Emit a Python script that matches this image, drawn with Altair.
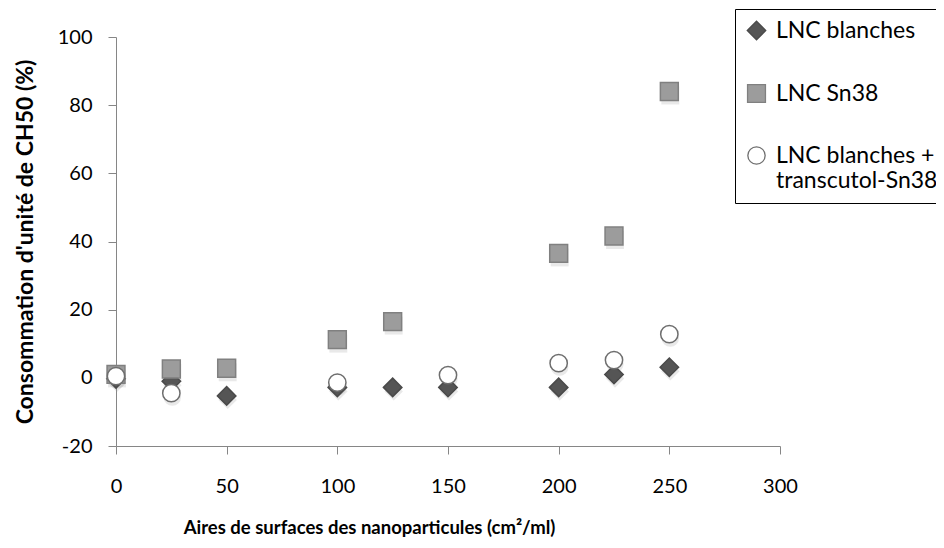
import altair as alt
import pandas as pd

series_names = ["LNC blanches", "LNC Sn38", "LNC blanches + transcutol-Sn38"]

x_blanches = [0, 25, 50, 100, 125, 150, 200, 225, 250]
y_blanches = [-0.3, -1.0, -5.3, -2.8, -2.8, -2.8, -2.8, 1.0, 3.1]

x_sn38 = [0, 25, 50, 100, 125, 200, 225, 250]
y_sn38 = [1.0, 2.6, 2.8, 11.2, 16.5, 36.5, 41.6, 84.0]

x_trans = [0, 25, 100, 150, 200, 225, 250]
y_trans = [0.5, -4.5, -1.4, 0.8, 4.3, 5.2, 12.8]

x_ticks = [0, 50, 100, 150, 200, 250, 300]
y_ticks = [-20, 0, 20, 40, 60, 80, 100]

rows = []
for name, xs, ys in zip(series_names, [x_blanches, x_sn38, x_trans], [y_blanches, y_sn38, y_trans]):
    for a, b in zip(xs, ys):
        rows.append({"serie": name, "x": a, "y": b})
df = pd.DataFrame(rows)

FONT = "Lato"
axis_color = "#868686"

x_enc = alt.X("x:Q", scale=alt.Scale(domain=[0, 300], nice=False),
              axis=alt.Axis(values=x_ticks, title="Aires de surfaces des nanoparticules (cm²/ml)",
                            grid=False, domainColor=axis_color, tickColor=axis_color,
                            tickSize=8, labelPadding=22, labelFontSize=20, labelFont=FONT,
                            labelColor="black", titleFont=FONT, titleFontSize=18.5,
                            titleFontWeight="bold", titleColor="black", titlePadding=22,
                            titleX=253, titleAnchor="middle",
                            labelFlush=False, labelExpr="toString(datum.value)"))
y_enc = alt.Y("y:Q", scale=alt.Scale(domain=[-20, 100], nice=False),
              axis=alt.Axis(values=y_ticks, title="Consommation d'unité de CH50 (%)",
                            grid=False, domainColor=axis_color, tickColor=axis_color,
                            tickSize=8, labelPadding=16, labelFontSize=20, labelFont=FONT,
                            labelColor="black", titleFont=FONT, titleFontSize=23,
                            titleFontWeight="bold", titleColor="black", titlePadding=20,
                            labelFlush=False, labelExpr="toString(datum.value)"))

legend = alt.Legend(title=None, orient="none", legendX=619, legendY=-28,
                    strokeColor="black", padding=10, rowPadding=38,
                    labelFont=FONT, labelFontSize=23, labelColor="black", labelLimit=400,
                    symbolStrokeWidth=1.3, labelOffset=8, symbolOpacity=1,
                    labelExpr="datum.label == 'LNC blanches + transcutol-Sn38' ? ['LNC blanches +', 'transcutol-Sn38'] : datum.label")

shape_scale = alt.Scale(domain=series_names, range=["diamond", "square", "circle"])
fill_scale = alt.Scale(domain=series_names, range=["#555555", "#9c9c9c", "#ffffff"])
stroke_scale = alt.Scale(domain=series_names, range=["#4a4a4a", "#808080", "#6e6e6e"])
size_scale = alt.Scale(domain=series_names, range=[340, 300, 200])

shadow = alt.Chart(df).mark_point(filled=True, opacity=0.22, yOffset=4, xOffset=1, color="#999999").encode(
    x=x_enc, y=y_enc,
    shape=alt.Shape("serie:N", scale=shape_scale, legend=None),
    size=alt.Size("serie:N", scale=size_scale, legend=None),
)

points = alt.Chart(df).mark_point(filled=True, strokeWidth=1.5, opacity=1).encode(
    x=x_enc, y=y_enc,
    shape=alt.Shape("serie:N", scale=shape_scale, legend=legend),
    fill=alt.Fill("serie:N", scale=fill_scale, legend=legend),
    stroke=alt.Stroke("serie:N", scale=stroke_scale, legend=legend),
    size=alt.Size("serie:N", scale=size_scale, legend=legend),
)

chart = alt.layer(shadow, points).resolve_legend(
    shape="independent", size="independent", fill="independent", stroke="independent"
).properties(
    width=664, height=409, background="white",
    padding={"left": 108, "top": 29, "right": 156, "bottom": 94},
    autosize=alt.AutoSizeParams(type="none"),
).configure_view(stroke=None)

chart.save("out.html", embed_options={"renderer": "svg", "actions": False})
